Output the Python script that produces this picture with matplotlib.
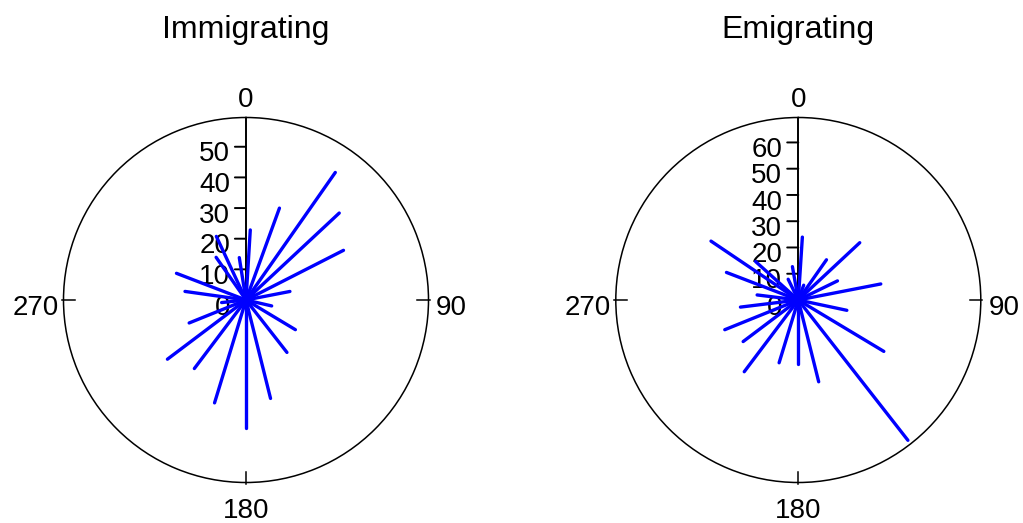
import numpy as np
import matplotlib
matplotlib.use("Agg")
import matplotlib.pyplot as plt

plt.rcParams['font.family'] = ['Liberation Sans', 'DejaVu Sans']

# Direction (degrees, clockwise from north) and number of movements
imm_angles = [3.5, 20, 35, 47, 63, 79, 103, 121, 142, 166, 180, 197, 217, 233,
              248, 264, 278, 291, 325, 335, 351]
imm_counts = [22.9, 31.9, 50.8, 41.6, 35.7, 14.6, 8.6, 18.8, 21.7, 33.1, 41.9,
              35.1, 28.0, 32.1, 20.0, 8.0, 20.1, 24.3, 17.0, 22.9, 14.0]

emi_angles = [3.7, 20, 35, 47, 64, 79, 102, 121, 142, 166, 180, 197, 217, 233,
              248, 263, 277, 291, 304, 312, 334, 350]
emi_counts = [24.0, 6.0, 18.7, 32.0, 16.6, 32.0, 18.9, 38.0, 67.8, 32.1, 24.2,
              25.0, 34.2, 26.3, 30.2, 22.2, 15.8, 29.3, 40.1, 21.9, 8.8, 12.9]

imm_rticks = [0, 10, 20, 30, 40, 50]
emi_rticks = [0, 10, 20, 30, 40, 50, 60]
compass_ticks = [0, 90, 180, 270]

FS = 20
RADIUS_PX = 182.5
W, H = 1023, 523

fig = plt.figure(figsize=(W / 100, H / 100), dpi=100)


def rose(cx, title, angles, counts, rticks, rmax):
    cy = 300
    rect = [(cx - RADIUS_PX) / W, (H - cy - RADIUS_PX) / H,
            2 * RADIUS_PX / W, 2 * RADIUS_PX / H]
    ax = fig.add_axes(rect, projection='polar')
    ax.set_theta_zero_location('N')
    ax.set_theta_direction(-1)
    ax.set_ylim(0, rmax)
    ax.grid(False)
    ax.set_xticks([])
    ax.set_yticks([])
    ax.spines['polar'].set_linewidth(1.1)
    ax.spines['polar'].set_color('black')

    # radial axis along north
    ax.plot([0, 0], [0, rmax], color='black', lw=1.4, zorder=2, clip_on=False)
    for r in rticks:
        ax.annotate('', xy=(0, r), xycoords='data', xytext=(-8, 0),
                    textcoords='offset points',
                    arrowprops=dict(arrowstyle='-', lw=1.4, color='black',
                                    shrinkA=0, shrinkB=0), zorder=2)
        ax.annotate(str(r), xy=(0, r), xycoords='data', xytext=(-11.5, -10.6),
                    textcoords='offset points', ha='right', va='baseline',
                    fontsize=FS, zorder=2)

    # compass ticks and labels
    for deg in compass_ticks:
        th = np.deg2rad(deg)
        if deg != 0:
            ax.plot([th, th], [rmax * (1 - 11 / RADIUS_PX), rmax * (1 + 1.5 / RADIUS_PX)],
                    color='black', lw=1.1, clip_on=False, zorder=2)
    label_offsets = {0: ((0, 7.9), 'center'),
                     90: ((5.5, -10.8), 'left'),
                     180: ((0, -25.6), 'center'),
                     270: ((-3.6, -10.8), 'right')}
    for deg in compass_ticks:
        (dx, dy), ha = label_offsets[deg]
        ax.annotate(str(deg), xy=(np.deg2rad(deg), rmax), xycoords='data',
                    xytext=(dx, dy), textcoords='offset points',
                    ha=ha, va='baseline', fontsize=FS, annotation_clip=False)

    ax.vlines(np.deg2rad(angles), 0, counts, colors='#0000ff', lw=2.4,
              zorder=5, capstyle='round')

    fig.text(cx / W, 1 - 38.3 / H, title, ha='center', va='baseline', fontsize=23)
    return ax


rose(246, 'Immigrating', imm_angles, imm_counts, imm_rticks, RADIUS_PX / 3.065)
rose(798.3, 'Emigrating', emi_angles, emi_counts, emi_rticks, RADIUS_PX / 2.626)

fig.savefig('out.png', dpi=100)
